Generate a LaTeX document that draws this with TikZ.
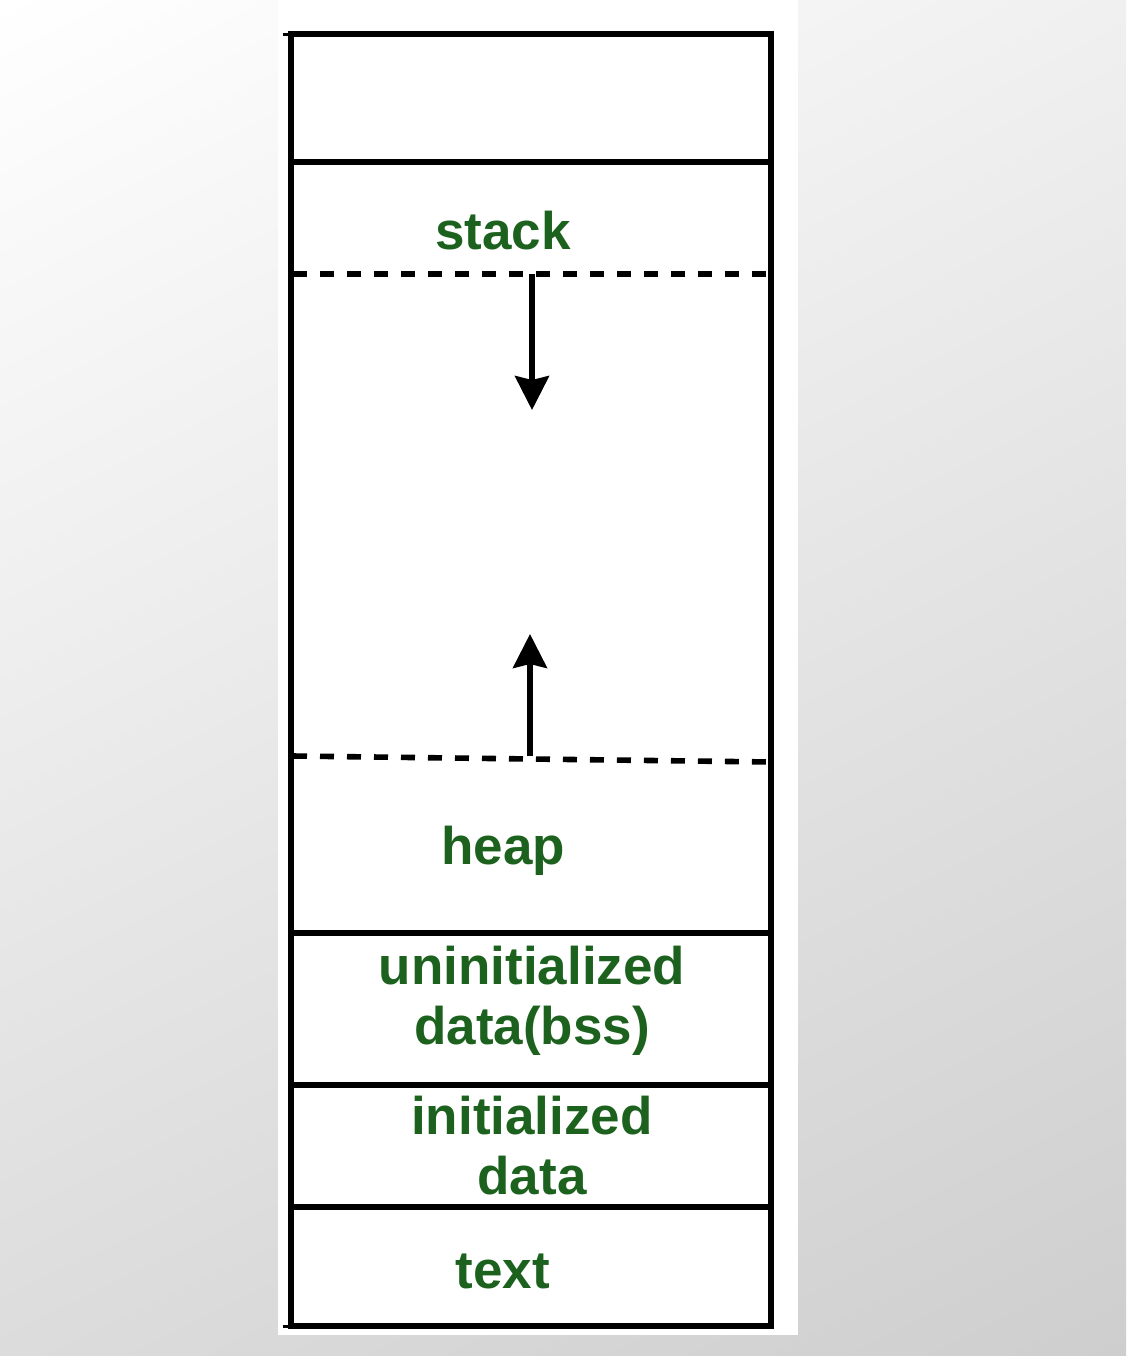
\documentclass[tikz,border=0pt]{standalone}
\usepackage{fontspec}
\setmainfont{Liberation Sans}
\usetikzlibrary{arrows.meta,shadings}
\definecolor{lblgreen}{RGB}{28,98,30}
\definecolor{bgUR}{RGB}{240,240,240}
\definecolor{bgLL}{RGB}{220,220,220}
\definecolor{bgLR}{RGB}{206,206,206}
\tikzset{
  wall/.style={line width=2.6pt, line cap=rect},
  sep/.style={line width=2.6pt},
  dashsep/.style={line width=2.8pt, dash pattern=on 7pt off 6.5pt},
  growarrow/.style={line width=2.6pt, -{Stealth[length=17pt,width=17pt,inset=2pt]}},
  seglabel/.style={text=lblgreen, font=\bfseries\fontsize{26.5}{30}\selectfont, align=center, inner sep=0pt, anchor=base},
}
\begin{document}
\begin{tikzpicture}[x=0.5pt,y=-0.5pt]
\useasboundingbox (0,0) rectangle (1126,1356);
% background
\shade[upper left=white, upper right=bgUR, lower left=bgLL, lower right=bgLR]
  (0,0) rectangle (1126,1356);
\fill[white] (278,0) rectangle (798,1335);
% outer frame and separators
\draw[wall] (291,34) rectangle (771,1326);
\draw[line width=1.5pt] (283,34) -- (291,34);
\draw[line width=1.5pt] (283,1326) -- (291,1326);
\draw[sep] (291,162) -- (771,162);
\draw[sep] (291,933) -- (771,933);
\draw[sep] (291,1085) -- (771,1085);
\draw[sep] (291,1207) -- (771,1207);
\draw[dashsep] (293,274) -- (776,274);
\draw[dashsep] (293,756) -- (771,762);
% growth arrows
\coordinate (stacktop) at (532,274);
\coordinate (stackend) at (532,410);
\coordinate (heaptop) at (530,756);
\coordinate (heapend) at (530,634);
\draw[growarrow] (stacktop) -- (stackend);
\draw[growarrow] (heaptop) -- (heapend);
% labels
\node[seglabel] (stack) at (503,249) {stack};
\node[seglabel] (heap) at (503,864) {heap};
\node[seglabel, anchor=north] (bss) at (532,946) {uninitialized\\data(bss)};
\node[seglabel, anchor=north] (data) at (532,1096) {initialized\\data};
\node[seglabel] (text) at (503,1288) {text};
\end{tikzpicture}
\end{document}
